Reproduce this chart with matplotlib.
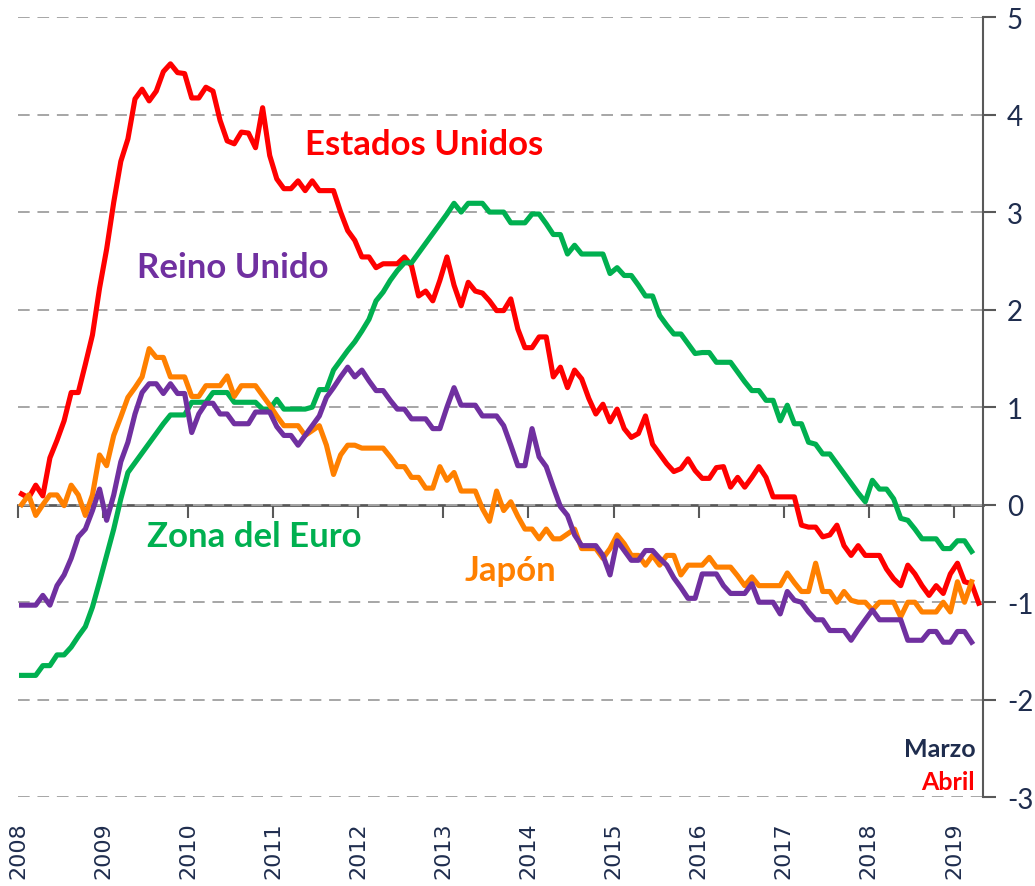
import numpy as np
import matplotlib
matplotlib.use("Agg")
import matplotlib.pyplot as plt

plt.rcParams["axes.unicode_minus"] = False

# Valores mensuales desde enero 2008 (lectura aproximada del gráfico)
estados_unidos = [
    0.11, 0.07, 0.20, 0.09, 0.48, 0.66, 0.86, 1.15, 1.15, 1.44,
    1.74, 2.22, 2.62, 3.10, 3.52, 3.75, 4.16, 4.26, 4.14, 4.24,
    4.44, 4.52, 4.43, 4.42, 4.17, 4.17, 4.28, 4.24, 3.94, 3.73,
    3.70, 3.82, 3.81, 3.66, 4.07, 3.58, 3.34, 3.24, 3.24, 3.32,
    3.22, 3.32, 3.22, 3.22, 3.22, 3.00, 2.81, 2.71, 2.54, 2.54,
    2.43, 2.47, 2.47, 2.47, 2.54, 2.45, 2.14, 2.19, 2.09, 2.30,
    2.54, 2.25, 2.04, 2.28, 2.19, 2.17, 2.09, 1.99, 1.99, 2.11,
    1.80, 1.61, 1.61, 1.72, 1.72, 1.31, 1.41, 1.20, 1.38, 1.29,
    1.09, 0.93, 1.03, 0.85, 0.98, 0.78, 0.69, 0.73, 0.91, 0.62,
    0.52, 0.42, 0.34, 0.37, 0.47, 0.35, 0.27, 0.27, 0.38, 0.39,
    0.18, 0.28, 0.18, 0.28, 0.39, 0.28, 0.08, 0.08, 0.08, 0.08,
    -0.21, -0.23, -0.23, -0.33, -0.31, -0.21, -0.42, -0.52, -0.42, -0.52,
    -0.52, -0.52, -0.66, -0.76, -0.83, -0.62, -0.71, -0.83, -0.93, -0.83,
    -0.91, -0.71, -0.60, -0.79, -0.81, -1.01,
]

zona_euro = [
    -1.75, -1.75, -1.75, -1.65, -1.65, -1.54, -1.54, -1.46, -1.35, -1.25,
    -1.05, -0.79, -0.52, -0.25, 0.06, 0.33, 0.43, 0.53, 0.63, 0.73,
    0.83, 0.92, 0.92, 0.92, 1.05, 1.05, 1.05, 1.15, 1.15, 1.15,
    1.05, 1.05, 1.05, 1.05, 0.98, 0.98, 1.08, 0.98, 0.98, 0.98,
    0.98, 1.00, 1.18, 1.18, 1.38, 1.48, 1.58, 1.67, 1.78, 1.90,
    2.09, 2.18, 2.30, 2.40, 2.48, 2.48, 2.58, 2.68, 2.78, 2.88,
    2.98, 3.09, 3.00, 3.09, 3.09, 3.09, 3.00, 3.00, 3.00, 2.89,
    2.89, 2.89, 2.98, 2.98, 2.88, 2.77, 2.77, 2.57, 2.66, 2.57,
    2.57, 2.57, 2.57, 2.37, 2.43, 2.35, 2.35, 2.25, 2.14, 2.14,
    1.94, 1.84, 1.75, 1.75, 1.65, 1.55, 1.56, 1.56, 1.46, 1.46,
    1.46, 1.36, 1.26, 1.17, 1.17, 1.07, 1.07, 0.86, 1.02, 0.83,
    0.83, 0.64, 0.62, 0.52, 0.52, 0.42, 0.32, 0.22, 0.12, 0.03,
    0.25, 0.16, 0.16, 0.06, -0.14, -0.16, -0.25, -0.35, -0.35, -0.35,
    -0.45, -0.45, -0.37, -0.37, -0.48,
]

reino_unido = [
    -1.03, -1.03, -1.03, -0.93, -1.03, -0.83, -0.72, -0.55, -0.33, -0.25,
    -0.06, 0.16, -0.16, 0.10, 0.44, 0.64, 0.93, 1.15, 1.24, 1.24,
    1.14, 1.24, 1.14, 1.14, 0.74, 0.93, 1.04, 1.04, 0.93, 0.93,
    0.83, 0.83, 0.83, 0.95, 0.95, 0.95, 0.80, 0.71, 0.71, 0.61,
    0.71, 0.81, 0.91, 1.10, 1.20, 1.31, 1.41, 1.31, 1.38, 1.27,
    1.17, 1.17, 1.07, 0.98, 0.98, 0.88, 0.88, 0.88, 0.78, 0.78,
    1.00, 1.20, 1.02, 1.02, 1.02, 0.91, 0.91, 0.91, 0.81, 0.61,
    0.40, 0.40, 0.78, 0.49, 0.39, 0.18, -0.02, -0.11, -0.31, -0.42,
    -0.42, -0.42, -0.52, -0.72, -0.37, -0.47, -0.57, -0.57, -0.47, -0.47,
    -0.55, -0.62, -0.75, -0.85, -0.96, -0.96, -0.71, -0.71, -0.71, -0.83,
    -0.91, -0.91, -0.91, -0.81, -1.00, -1.00, -1.00, -1.12, -0.89, -0.98,
    -1.00, -1.10, -1.18, -1.18, -1.29, -1.29, -1.29, -1.39, -1.28, -1.18,
    -1.08, -1.18, -1.18, -1.18, -1.18, -1.39, -1.39, -1.39, -1.30, -1.30,
    -1.41, -1.41, -1.30, -1.30, -1.41,
]

japon = [
    0.00, 0.10, -0.11, 0.00, 0.10, 0.10, -0.01, 0.20, 0.10, -0.11,
    0.10, 0.51, 0.40, 0.71, 0.90, 1.10, 1.20, 1.31, 1.60, 1.51,
    1.51, 1.31, 1.31, 1.31, 1.11, 1.11, 1.22, 1.22, 1.22, 1.32,
    1.11, 1.22, 1.22, 1.22, 1.12, 1.02, 0.91, 0.81, 0.81, 0.81,
    0.71, 0.76, 0.81, 0.61, 0.31, 0.51, 0.61, 0.61, 0.58, 0.58,
    0.58, 0.58, 0.49, 0.39, 0.39, 0.28, 0.28, 0.17, 0.17, 0.39,
    0.25, 0.33, 0.14, 0.14, 0.14, -0.04, -0.17, 0.14, -0.06, 0.03,
    -0.12, -0.25, -0.25, -0.35, -0.25, -0.35, -0.35, -0.30, -0.25, -0.45,
    -0.45, -0.45, -0.55, -0.45, -0.31, -0.40, -0.52, -0.52, -0.62, -0.52,
    -0.62, -0.52, -0.52, -0.72, -0.62, -0.62, -0.62, -0.54, -0.64, -0.64,
    -0.64, -0.73, -0.83, -0.74, -0.83, -0.83, -0.83, -0.83, -0.70, -0.80,
    -0.89, -0.89, -0.60, -0.89, -0.89, -1.00, -0.89, -0.98, -1.00, -1.00,
    -1.08, -1.00, -1.00, -1.00, -1.15, -1.00, -1.00, -1.10, -1.10, -1.10,
    -1.00, -1.10, -0.79, -1.00, -0.79,
]

anios = list(range(2008, 2020))

rojo = "#FF0000"
verde = "#00B050"
morado = "#7030A0"
naranja = "#FF8000"
azul_osc = "#1F2D4E"
gris = "#595959"

def fechas(serie):
    # puntos a mitad de cada mes
    return 2008 + (np.arange(len(serie)) + 0.5) / 12

fig = plt.figure(figsize=(10.35, 8.87), dpi=100)
ax = fig.add_axes([0.0174, 0.100, 0.9326, 0.8797])

lw = 3.7
ax.plot(fechas(estados_unidos), estados_unidos, color=rojo, lw=lw, zorder=3)
ax.plot(fechas(zona_euro), zona_euro, color=verde, lw=lw, zorder=4)
ax.plot(fechas(japon), japon, color=naranja, lw=lw, zorder=5)
ax.plot(fechas(reino_unido), reino_unido, color=morado, lw=lw, zorder=6)

ax.set_xlim(2008, 2019.345)
ax.set_ylim(-3, 5)

# eje Y a la derecha
ax.yaxis.tick_right()
ax.set_yticks(range(-3, 6))
ax.tick_params(axis="y", direction="out", length=9, width=1.5, color=gris,
               labelsize=20, labelcolor=azul_osc, pad=8)
for t in ax.get_yticklabels():
    t.set_family("Lato")
ax.grid(axis="y", color="#A6A6A6", lw=1.4, dashes=(6, 4))
ax.set_axisbelow(True)

for s in ["left", "top", "bottom"]:
    ax.spines[s].set_visible(False)
ax.spines["right"].set_color(gris)
ax.spines["right"].set_linewidth(1.5)

# etiquetas de años abajo, giradas
ax.set_xticks(anios)
ax.set_xticklabels([str(a) for a in anios])
ax.tick_params(axis="x", length=0, pad=17, labelsize=16, labelcolor=azul_osc,
               labelrotation=90)
plt.setp(ax.get_xticklabels(), family="DejaVu Sans")

# eje X que cruza en cero, con sus marcas
eje0 = ax.secondary_xaxis(0, transform=ax.transData)
eje0.set_xticks(anios)
eje0.tick_params(axis="x", direction="out", length=9, width=1.5, color=gris,
                 labelbottom=False)
eje0.spines["bottom"].set_color(gris)
eje0.spines["bottom"].set_linewidth(2)

# etiquetas de las series
fuente = dict(family="Lato", weight="bold", fontsize=25, va="center", ha="left")
ax.text(2011.37, 3.70, "Estados Unidos", color=rojo, **fuente)
ax.text(2009.40, 2.44, "Reino Unido", color=morado, **fuente)
ax.text(2009.52, -0.32, "Zona del Euro", color=verde, **fuente)
ax.text(2013.25, -0.67, "Japón", color=naranja, **fuente)

ax.text(2019.25, -2.50, "Marzo", color=azul_osc, family="Lato", weight="bold",
        fontsize=18, ha="right", va="center")
ax.text(2019.25, -2.84, "Abril", color=rojo, family="Lato", weight="bold",
        fontsize=18, ha="right", va="center")

fig.savefig("out.png", dpi=100)
